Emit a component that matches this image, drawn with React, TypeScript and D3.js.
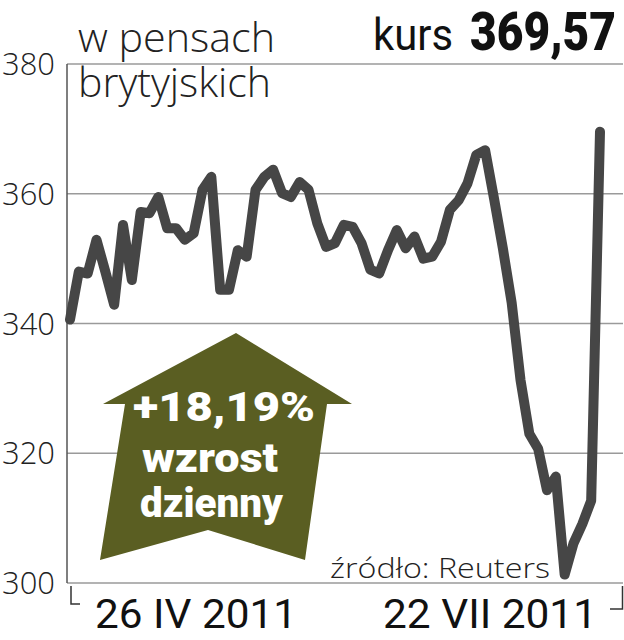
import React from "react";
import * as d3 from "d3";

const dayIndex = [
  0, 1, 2, 3, 4, 5, 6, 7, 8, 9, 10, 11, 12, 13, 14, 15, 16, 17, 18, 19, 20,
  21, 22, 23, 24, 25, 26, 27, 28, 29, 30, 31, 32, 33, 34, 35, 36, 37, 38, 39,
  40, 41, 42, 43, 44, 45, 46, 47, 48, 49, 50, 51, 52, 53, 54, 55, 56, 57, 58,
  59, 60,
];
const price = [
  340.6, 348.0, 347.7, 352.9, 348.0, 342.9, 355.2, 346.7, 357.2, 357.0, 359.5,
  354.7, 354.7, 352.9, 353.9, 360.6, 362.6, 345.2, 345.2, 351.3, 350.3, 360.6,
  362.6, 363.7, 360.1, 359.5, 361.8, 360.6, 355.4, 351.8, 352.4, 355.2, 354.9,
  352.4, 348.3, 347.7, 351.3, 354.4, 351.6, 353.4, 350.0, 350.3, 352.6, 357.5,
  359.0, 361.6, 366.0, 366.7, 359.3, 351.6, 343.2, 331.3, 323.0, 320.7, 314.3,
  316.4, 301.3, 306.1, 309.1, 312.69, 369.57,
];
const yTicks = [300, 320, 340, 360, 380];
const startLabel = "26 IV 2011";
const endLabel = "22 VII 2011";
const titleLines = ["w pensach", "brytyjskich"];
const kursLabel = "kurs";
const kursValue = "369,57";
const arrowLines = ["+18,19%", "wzrost", "dzienny"];
const sourceLabel = "źródło: Reuters";

export default function App() {
  const W = 624;
  const H = 640;
  const x = d3.scaleLinear().domain([0, 60]).range([70, 600]);
  const y = d3.scaleLinear().domain([300, 380]).range([583, 64]);
  const data = dayIndex.map((d, i) => ({ d, v: price[i] }));
  const line = d3
    .line<{ d: number; v: number }>()
    .x((p) => x(p.d))
    .y((p) => y(p.v));

  const light = "'Open Sans', 'DejaVu Sans', sans-serif";
  const bold = "Roboto, 'Liberation Sans', sans-serif";
  const olive = "#5a5e22";

  const arrowPts = [
    [236, 333],
    [352, 404],
    [327, 404],
    [305, 560],
    [208, 530],
    [100, 560],
    [125, 404],
    [103, 404],
  ];

  return (
    <svg
      width={W}
      height={H}
      viewBox={`0 0 ${W} ${H}`}
      style={{ position: "absolute", left: 0, top: 0, background: "#fff" }}
    >
      {/* gridlines */}
      {yTicks.map((t) => (
        <line
          key={t}
          x1={67}
          x2={623}
          y1={y(t)}
          y2={y(t)}
          stroke="#9a9a9a"
          strokeWidth={1.5}
        />
      ))}
      {/* left axis */}
      <line x1={67} x2={67} y1={y(380)} y2={y(300)} stroke="#555" strokeWidth={1.5} />
      {/* tick labels */}
      {yTicks.map((t) => (
        <text
          key={"l" + t}
          x={55}
          y={y(t) + 11}
          textAnchor="end"
          fontFamily={light}
          fontWeight={300}
          fontSize={31}
          fill="#222"
          textLength={53}
          lengthAdjust="spacingAndGlyphs"
        >
          {t}
        </text>
      ))}

      {/* title */}
      <text
        x={78}
        y={52}
        fontFamily={light}
        fontWeight={300}
        fontSize={41}
        fill="#222"
        textLength={197}
        lengthAdjust="spacingAndGlyphs"
      >
        {titleLines[0]}
      </text>
      <text
        x={78}
        y={97}
        fontFamily={light}
        fontWeight={300}
        fontSize={41}
        fill="#222"
        textLength={193}
        lengthAdjust="spacingAndGlyphs"
      >
        {titleLines[1]}
      </text>

      {/* kurs */}
      <text
        x={373}
        y={50}
        fontFamily={bold}
        fontWeight={400}
        fontSize={45}
        fill="#111"
        textLength={80}
        lengthAdjust="spacingAndGlyphs"
      >
        {kursLabel}
      </text>
      <text
        x={470}
        y={50}
        fontFamily={bold}
        fontWeight={900}
        fontSize={53}
        fill="#111"
        textLength={146}
        lengthAdjust="spacingAndGlyphs"
      >
        {kursValue}
      </text>

      {/* arrow */}
      <polygon points={arrowPts.map((p) => p.join(",")).join(" ")} fill={olive} />
      <text
        x={133}
        y={421}
        fontFamily={bold}
        fontWeight={900}
        fontSize={40}
        fill="#fff"
        textLength={182}
        lengthAdjust="spacingAndGlyphs"
      >
        {arrowLines[0]}
      </text>
      <text
        x={142}
        y={472}
        fontFamily={bold}
        fontWeight={900}
        fontSize={40}
        fill="#fff"
        textLength={136}
        lengthAdjust="spacingAndGlyphs"
      >
        {arrowLines[1]}
      </text>
      <text
        x={140}
        y={517}
        fontFamily={bold}
        fontWeight={900}
        fontSize={40}
        fill="#fff"
        textLength={143}
        lengthAdjust="spacingAndGlyphs"
      >
        {arrowLines[2]}
      </text>

      {/* source */}
      <text
        x={330}
        y={578}
        fontFamily={light}
        fontWeight={300}
        fontSize={28}
        fill="#222"
        textLength={220}
        lengthAdjust="spacingAndGlyphs"
      >
        {sourceLabel}
      </text>

      {/* price line */}
      <path
        d={line(data) || ""}
        fill="none"
        stroke="#464646"
        strokeWidth={10}
        strokeLinejoin="round"
        strokeLinecap="round"
      />

      {/* bottom brackets */}
      <polyline points="71,586 71,604 80,604" fill="none" stroke="#333" strokeWidth={1.5} />
      <polyline points="622.5,586 622.5,609 610,609" fill="none" stroke="#333" strokeWidth={1.5} />

      {/* date labels */}
      <text
        x={95}
        y={628}
        fontFamily={bold}
        fontWeight={400}
        fontSize={40}
        fill="#111"
        textLength={202}
        lengthAdjust="spacingAndGlyphs"
      >
        {startLabel}
      </text>
      <text
        x={383}
        y={628}
        fontFamily={bold}
        fontWeight={400}
        fontSize={40}
        fill="#111"
        textLength={214}
        lengthAdjust="spacingAndGlyphs"
      >
        {endLabel}
      </text>
    </svg>
  );
}
